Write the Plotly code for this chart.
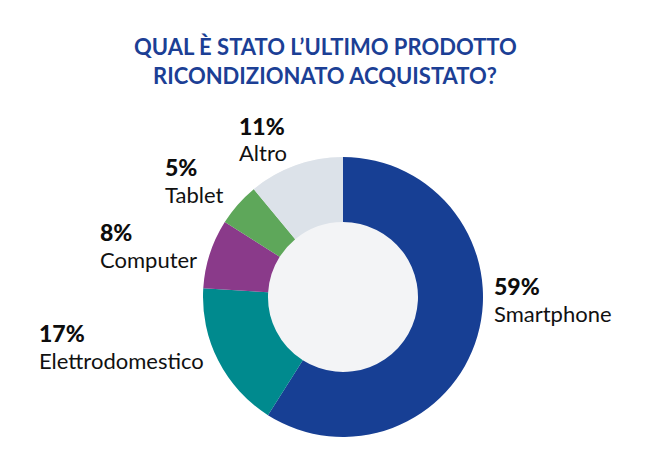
import plotly.graph_objects as go

categories = ["Smartphone", "Elettrodomestico", "Computer", "Tablet", "Altro"]
values = [59, 17, 8, 5, 11]
colors = ["#173f94", "#008a8e", "#8a3a8a", "#5ea75a", "#dce2e9"]
title_lines = ["QUAL È STATO L\u2019ULTIMO PRODOTTO", "RICONDIZIONATO ACQUISTATO?"]

W, H = 650, 473
OFF = 8  # page body margin
cx, cy, R = 343, 297, 140
hole_r = 75

# label anchor positions in pixels (left x, y of first line)
label_pos = {
    "Smartphone": (492, 286),
    "Elettrodomestico": (37, 333),
    "Computer": (98, 232),
    "Tablet": (163, 167),
    "Altro": (237, 126),
}
line_gap = 27

def px(x):
    return (x - OFF) / W

def py(y):
    return 1 - (y - OFF) / H

domain = dict(x=[px(cx - R), px(cx + R)], y=[py(cy + R), py(cy - R)])

fig = go.Figure()
fig.add_trace(go.Pie(
    values=[1], labels=["bg"], domain=domain, sort=False,
    marker=dict(colors=["#f3f4f6"], line=dict(width=0)),
    textinfo="none", hoverinfo="skip", showlegend=False,
))
fig.add_trace(go.Pie(
    values=values, labels=categories, domain=domain, hole=hole_r / R,
    sort=False, direction="clockwise", rotation=0,
    marker=dict(colors=colors, line=dict(width=0)),
    textinfo="none", showlegend=False,
))

annotations = []
for i, line in enumerate(title_lines):
    annotations.append(dict(
        x=px(325), y=py(46 + 29 * i), xref="paper", yref="paper",
        text="<b>" + line + "</b>", showarrow=False,
        xanchor="center", yanchor="middle",
        font=dict(family="Lato", size=22, color="#1c3f95"),
    ))

for cat, val in zip(categories, values):
    x0, y0 = label_pos[cat]
    annotations.append(dict(
        x=px(x0), y=py(y0), xref="paper", yref="paper",
        text="%d%%" % val, showarrow=False,
        xanchor="left", yanchor="middle",
        font=dict(family="Lato", size=23, color="#0d0d0d", weight=900),
    ))
    annotations.append(dict(
        x=px(x0), y=py(y0 + line_gap), xref="paper", yref="paper",
        text=cat, showarrow=False,
        xanchor="left", yanchor="middle",
        font=dict(family="Lato", size=22, color="#111111"),
    ))

fig.update_layout(
    width=W, height=H,
    margin=dict(l=0, r=0, t=0, b=0),
    paper_bgcolor="white", plot_bgcolor="white",
    annotations=annotations,
)

fig.write_html("out.html")
